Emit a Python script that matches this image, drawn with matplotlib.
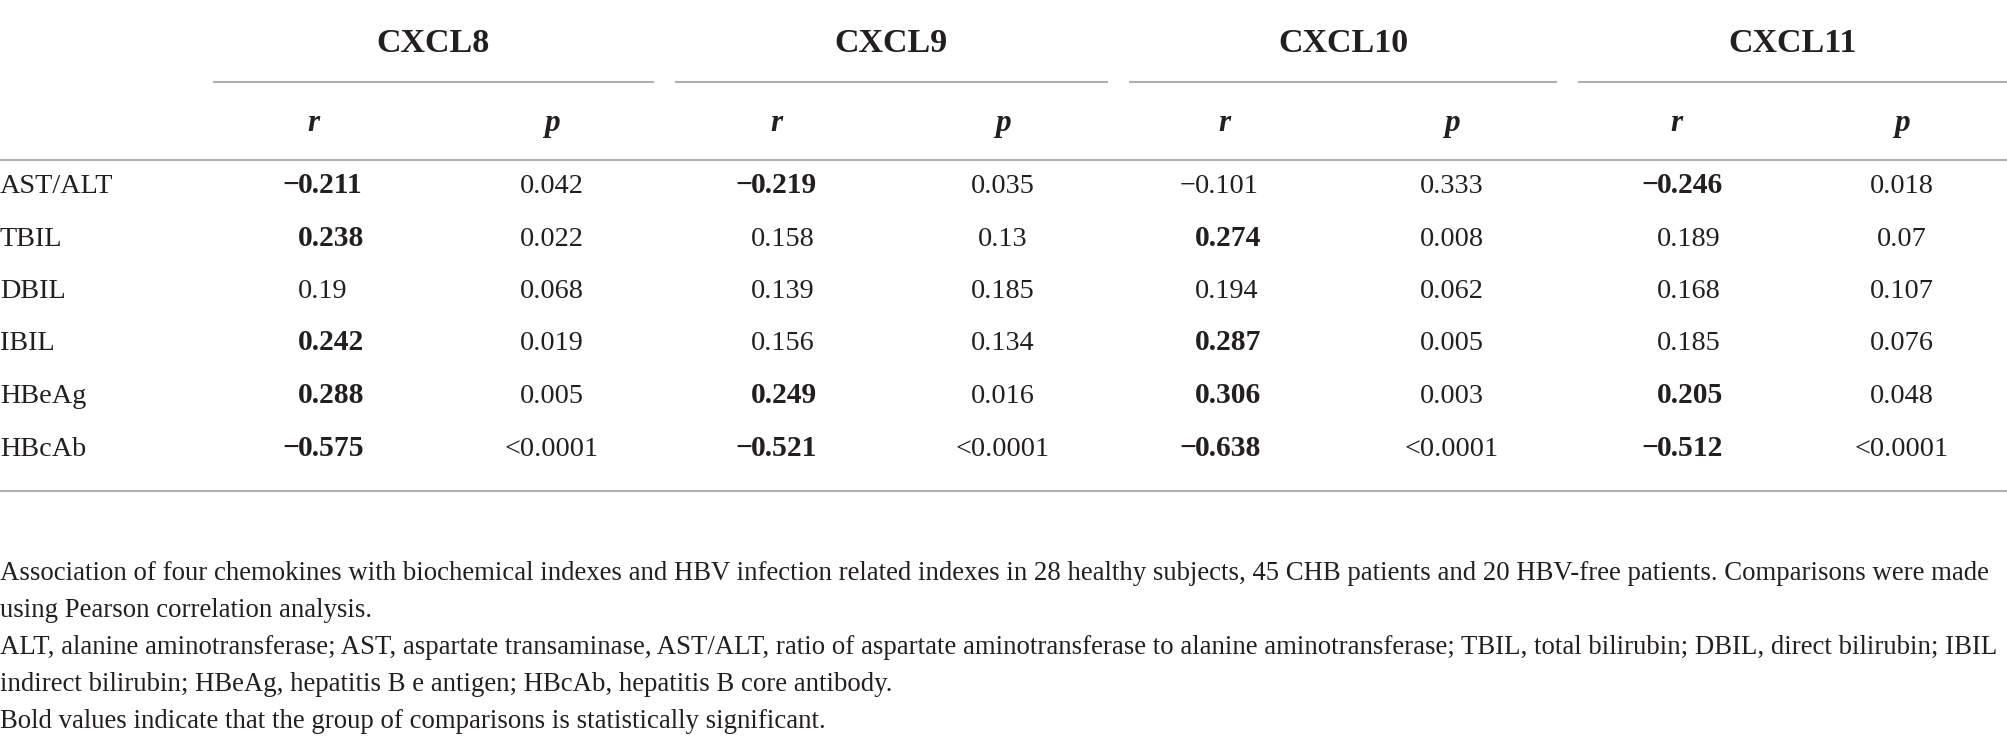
import matplotlib.pyplot as plt

# table content
markers = ["CXCL8", "CXCL9", "CXCL10", "CXCL11"]
row_labels = ["AST/ALT", "TBIL", "DBIL", "IBIL", "HBeAg", "HBcAb"]

r_cxcl8 = ["−0.211", "0.238", "0.19", "0.242", "0.288", "−0.575"]
p_cxcl8 = ["0.042", "0.022", "0.068", "0.019", "0.005", "<0.0001"]
r_cxcl9 = ["−0.219", "0.158", "0.139", "0.156", "0.249", "−0.521"]
p_cxcl9 = ["0.035", "0.13", "0.185", "0.134", "0.016", "<0.0001"]
r_cxcl10 = ["−0.101", "0.274", "0.194", "0.287", "0.306", "−0.638"]
p_cxcl10 = ["0.333", "0.008", "0.062", "0.005", "0.003", "<0.0001"]
r_cxcl11 = ["−0.246", "0.189", "0.168", "0.185", "0.205", "−0.512"]
p_cxcl11 = ["0.018", "0.07", "0.107", "0.076", "0.048", "<0.0001"]

r_cols = [r_cxcl8, r_cxcl9, r_cxcl10, r_cxcl11]
p_cols = [p_cxcl8, p_cxcl9, p_cxcl10, p_cxcl11]

footnote = [
    "Association of four chemokines with biochemical indexes and HBV infection related indexes in 28 healthy subjects, 45 CHB patients and 20 HBV-free patients. Comparisons were made",
    "using Pearson correlation analysis.",
    "ALT, alanine aminotransferase; AST, aspartate transaminase, AST/ALT, ratio of aspartate aminotransferase to alanine aminotransferase; TBIL, total bilirubin; DBIL, direct bilirubin; IBIL",
    "indirect bilirubin; HBeAg, hepatitis B e antigen; HBcAb, hepatitis B core antibody.",
    "Bold values indicate that the group of comparisons is statistically significant.",
]

# layout (pixel units of the 2008x744 canvas)
W, H = 2008, 744
group_x = [433, 891, 1343, 1793]
group_span = [(213, 654), (675, 1108), (1129, 1557), (1578, 2008)]
r_head_x = [313, 776, 1224, 1676]
p_x = [552, 1003, 1452, 1902]
r_digit_x = [298, 751, 1195, 1657]
y_head, y_sub = 52, 131
y_rows = [193 + 52.5 * i for i in range(len(row_labels))]
y_notes = [580 + 37 * i for i in range(len(footnote))]

ink = "#231f20"
rule = "#b0b0b0"
font = "Liberation Serif"
fs_body = 20.3
fs_bold = 21.3

fig = plt.figure(figsize=(W / 100, H / 100), dpi=100)
ax = fig.add_axes([0, 0, 1, 1])
ax.set_xlim(0, W)
ax.set_ylim(H, 0)
ax.axis("off")

for name, gx, (x0, x1) in zip(markers, group_x, group_span):
    ax.text(gx, y_head, name, ha="center", va="baseline", fontsize=24.5,
            fontweight="bold", family=font, color=ink)
    ax.plot([x0, x1], [82, 82], color=rule, lw=1.5, solid_capstyle="butt")

for rx, px in zip(r_head_x, p_x):
    ax.text(rx, y_sub, "r", ha="center", va="baseline", fontsize=22.5,
            fontweight="bold", style="italic", family=font, color=ink)
    ax.text(px, y_sub, "p", ha="center", va="baseline", fontsize=22.5,
            fontweight="bold", style="italic", family=font, color=ink)

ax.plot([0, W], [160, 160], color=rule, lw=1.5)
ax.plot([0, W], [491, 491], color=rule, lw=1.5)

for i, (lab, y) in enumerate(zip(row_labels, y_rows)):
    ax.text(0, y, lab, ha="left", va="baseline", fontsize=fs_body, family=font, color=ink)
    for rc, pc, dx, px in zip(r_cols, p_cols, r_digit_x, p_x):
        rv, pv = rc[i], pc[i]
        sig = float(pv.lstrip("<")) < 0.05
        wt = "bold" if sig else "normal"
        fs = fs_bold if sig else fs_body
        if rv.startswith("−"):
            # minus hangs left of the digit column
            ax.text(dx + 1, y, "−", ha="right", va="baseline", fontsize=fs,
                    fontweight=wt, family=font, color=ink)
            rv = rv[1:]
        ax.text(dx, y, rv, ha="left", va="baseline", fontsize=fs,
                fontweight=wt, family=font, color=ink)
        ax.text(px, y, pv, ha="center", va="baseline", fontsize=fs_body,
                family=font, color=ink)

for line, y in zip(footnote, y_notes):
    ax.text(0, y, line, ha="left", va="baseline", fontsize=19.25, family=font, color=ink)

fig.savefig("out.png", dpi=100, facecolor="white")
